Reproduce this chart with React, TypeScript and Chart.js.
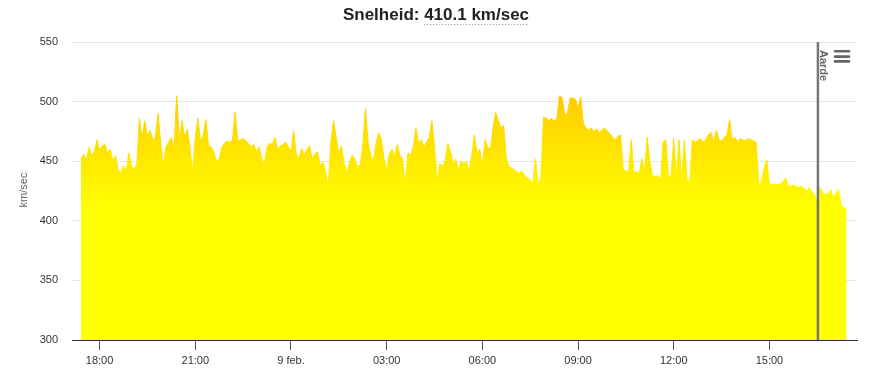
import React, { useEffect, useRef } from "react";
import { Chart, registerables } from "chart.js";

Chart.register(...registerables);

const TITLE_LABEL = "Snelheid: ";
const TITLE_VALUE = "410.1 km/sec";
const Y_AXIS_TITLE = "km/sec";
const Y_TICKS = [300, 350, 400, 450, 500, 550];
const X_TICK_HOURS = [18, 21, 24, 27, 30, 33, 36, 39];
const X_TICK_LABELS = ["18:00", "21:00", "9 feb.", "03:00", "06:00", "09:00", "12:00", "15:00"];
const X_MIN = 17.135;
const X_MAX = 41.745;
const START_HOUR = 17 + 25 / 60;
const STEP_MINUTES = 5;
const AARDE_HOUR = 40.52;
const AARDE_LABEL = "Aarde";

const SPEED = [
  452, 456, 450, 462, 455, 458, 468, 459, 463, 464,
  457, 460, 450, 455, 443, 440, 446, 441, 457, 446,
  443, 448, 486, 469, 484, 471, 476, 468, 470, 490,
  465, 447, 462, 466, 470, 461, 505, 468, 484, 470,
  477, 462, 440, 470, 486, 466, 472, 485, 463, 462,
  458, 450, 452, 462, 465, 467, 466, 468, 491, 467,
  468, 469, 467, 465, 462, 464, 458, 462, 452, 448,
  462, 465, 464,
  470, 460, 463, 464, 466, 462, 458, 476, 456, 452,
  461, 455, 460, 463, 452, 456, 458, 446, 449, 442,
  428, 466, 484, 470, 456, 463, 448, 440, 449, 455,
  452, 445, 447, 462, 494, 466, 455, 450, 465, 474,
  468, 452, 442, 456, 460, 454, 464, 455, 452, 430,
  457, 455, 462, 478, 465, 468, 462, 466, 470, 484,
  462, 432, 448, 446, 450, 465, 458, 448, 452, 442,
  450,
  448, 450, 441, 455, 472, 457, 460, 446, 468, 462,
  460, 478, 491, 484, 478, 480, 452, 446, 444, 443,
  441, 440, 442, 437, 436, 434, 432, 452, 430, 436,
  487, 486, 484, 486, 484, 485, 505, 503, 489, 490,
  503, 503, 502, 494, 504, 482, 478, 476, 478, 475,
  477, 474, 476, 478, 475, 473, 470, 468, 471, 472,
  443, 442, 441, 468, 441, 441, 440, 452, 441, 470,
  450,
  438, 437, 438, 433, 466, 468, 437, 438, 469, 436,
  468, 434, 468, 434, 433, 468, 466, 467, 469, 466,
  468, 472, 474, 466, 476, 468, 467, 470, 472, 485,
  468, 470, 466, 469, 468, 467, 469, 468, 467, 466,
  431, 433, 444, 451, 431, 430, 431, 430, 431, 432,
  436, 430, 429, 430, 429, 428, 429, 427, 425, 428,
  424, 422, 416, 428, 424, 422, 423, 426, 420, 423,
  426, 413, 411, 410,
];

const FONT = '"Liberation Sans", Arial, Helvetica, sans-serif';

export default function App() {
  const ref = useRef<HTMLCanvasElement | null>(null);

  useEffect(() => {
    document.body.style.margin = "0";
    const canvas = ref.current;
    if (!canvas) return;

    const points = SPEED.map((v, i) => ({ x: START_HOUR + (i * STEP_MINUTES) / 60, y: v }));

    const grad = (c: any) => {
      const chart = c.chart;
      if (!chart.chartArea) return "#ffff00";
      const ys = chart.scales.y;
      const g = chart.ctx.createLinearGradient(0, ys.getPixelForValue(505), 0, ys.getPixelForValue(410));
      g.addColorStop(0, "#FFCC00");
      g.addColorStop(1, "#FFFF00");
      return g;
    };

    const overlay = {
      id: "overlay",
      afterDraw(chart: any) {
        const ctx = chart.ctx;
        const area = chart.chartArea;
        const xs = chart.scales.x;
        ctx.save();
        // Aarde line
        const ax = xs.getPixelForValue(AARDE_HOUR);
        ctx.strokeStyle = "#777777";
        ctx.lineWidth = 2.5;
        ctx.beginPath();
        ctx.moveTo(ax, area.top);
        ctx.lineTo(ax, area.bottom);
        ctx.stroke();
        // Aarde label
        ctx.save();
        ctx.translate(ax + 2, area.top + 8);
        ctx.rotate(Math.PI / 2);
        ctx.fillStyle = "#666666";
        ctx.font = "bold 11px " + FONT;
        ctx.textAlign = "left";
        ctx.textBaseline = "alphabetic";
        ctx.fillText(AARDE_LABEL, 0, 0);
        ctx.restore();

        // Title
        ctx.font = "bold 17px " + FONT;
        ctx.fillStyle = "#222222";
        ctx.textBaseline = "alphabetic";
        ctx.textAlign = "left";
        const full = TITLE_LABEL + TITLE_VALUE;
        const w = ctx.measureText(full).width;
        const x0 = 436 - w / 2;
        ctx.fillText(full, x0, 20);
        const wl = ctx.measureText(TITLE_LABEL).width;
        ctx.strokeStyle = "#999999";
        ctx.lineWidth = 1;
        ctx.setLineDash([1, 2]);
        ctx.beginPath();
        ctx.moveTo(x0 + wl, 24.5);
        ctx.lineTo(x0 + w, 24.5);
        ctx.stroke();
        ctx.setLineDash([]);

        // Y axis title
        ctx.save();
        ctx.translate(24, 190);
        ctx.rotate(-Math.PI / 2);
        ctx.font = "11px " + FONT;
        ctx.fillStyle = "#666666";
        ctx.textAlign = "center";
        ctx.textBaseline = "middle";
        ctx.fillText(Y_AXIS_TITLE, 0, 0);
        ctx.restore();

        // Menu icon
        ctx.strokeStyle = "#666666";
        ctx.lineWidth = 2.6;
        ctx.lineCap = "round";
        [51.3, 56.6, 61.4].forEach((y) => {
          ctx.beginPath();
          ctx.moveTo(835, y);
          ctx.lineTo(849, y);
          ctx.stroke();
        });
        ctx.restore();
      },
    };

    const chart = new Chart(canvas, {
      type: "line",
      data: {
        datasets: [
          {
            data: points,
            fill: "start",
            backgroundColor: grad,
            borderColor: grad,
            borderWidth: 1,
            pointRadius: 0,
            tension: 0,
          },
        ],
      },
      options: {
        responsive: false,
        animation: false,
        layout: { padding: { top: 42, right: 12, left: 0, bottom: 0 } },
        plugins: {
          legend: { display: false },
          tooltip: { enabled: false },
          title: { display: false },
        },
        scales: {
          x: {
            type: "linear",
            min: X_MIN,
            max: X_MAX,
            afterFit: (s: any) => {
              s.height = 32;
            },
            afterBuildTicks: (s: any) => {
              s.ticks = X_TICK_HOURS.map((v) => ({ value: v }));
            },
            ticks: {
              callback: (v: any) => X_TICK_LABELS[X_TICK_HOURS.indexOf(Number(v))] ?? "",
              color: "#333333",
              font: { family: FONT, size: 11 },
              padding: 4,
              maxRotation: 0,
              autoSkip: false,
            },
            grid: { drawOnChartArea: false, drawTicks: true, tickLength: 10, tickColor: "#555555" },
            border: { display: true, color: "#333333", width: 1 },
          },
          y: {
            min: 300,
            max: 550,
            afterFit: (s: any) => {
              s.width = 72;
            },
            afterBuildTicks: (s: any) => {
              s.ticks = Y_TICKS.map((v) => ({ value: v }));
            },
            ticks: {
              color: "#333333",
              font: { family: FONT, size: 11 },
              padding: 14,
            },
            grid: { color: "#e6e6e6", drawTicks: false },
            border: { display: false },
          },
        },
      },
      plugins: [overlay],
    } as any);

    return () => chart.destroy();
  }, []);

  return <canvas ref={ref} width={869} height={372} style={{ display: "block" }} />;
}
